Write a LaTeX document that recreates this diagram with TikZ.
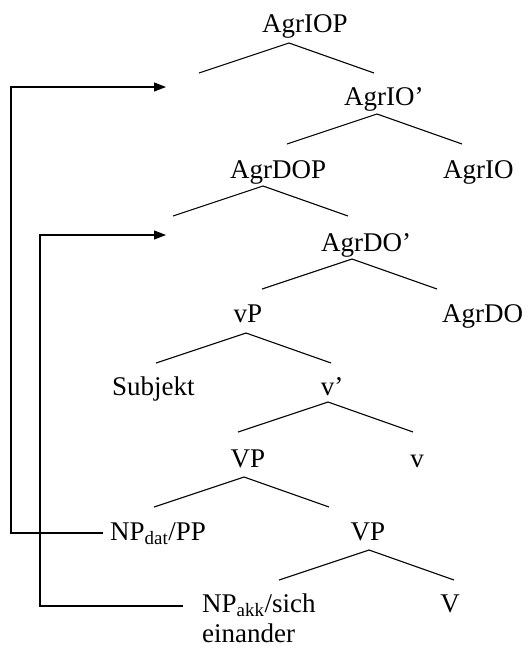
\documentclass[tikz,border=0pt]{standalone}
\usepackage{fontspec}
\setmainfont{Liberation Serif}
\usetikzlibrary{arrows.meta}

\begin{document}
\begin{tikzpicture}[x=1pt, y=-1pt]
	\tikzset{cat/.style={inner sep=0pt, anchor=base west, font=\fontsize{27}{32}\selectfont}}
	\tikzset{catc/.style={cat, anchor=base}}
	\tikzset{branch/.style={line width=1.1pt}}
	\tikzset{move/.style={line width=1.1pt, -{Triangle[length=12pt, width=9pt]}}}
		\useasboundingbox (0,0) rectangle (530,650);
		\foreach \name/\x/\y/\tag in {AgrIOP/262/33/AgrIOP, AgrIObar/344/106/AgrIO', AgrDOP/230/178/AgrDOP, AgrIO/443/178/AgrIO, AgrDObar/321/251/AgrDO', AgrDO/442/322/AgrDO, Subj/112/395/Subjekt, einander/202/642/einander}
		{\node[cat] (\name) at (\x,\y) {\tag};}
		\foreach \name/\x/\y/\tag in {vP/248/322/vP, vbar/332/395/v', VPa/248/467/VP, v/417/467/v, VPb/368/540/VP, V/450/612/V}
		{\node[catc] (\name) at (\x,\y) {\tag};}
		\node[cat] (NPdat) at (110,540) {NP\textsubscript{dat}/PP};
		\node[cat] (NPakk) at (202,612) {NP\textsubscript{akk}/sich};
		\foreach \name/\x/\y in {b1/289/43, b2/377/114, b3/263/186, b4/352/259, b5/246/333, b6/328/402, b7/244/477, b8/369/550}
		{\coordinate (\name) at (\x,\y);}
		\foreach \b in {b1, b2, b3, b4, b5, b6, b7, b8}
		{\draw[branch] (\b) ++(-90,30) -- (\b) -- ++(85,30);}
		% traces
		\coordinate (spec1) at (166,87);
		\coordinate (spec2) at (166,235);
		\draw[move] ([xshift=-7pt, yshift=7pt]NPdat.base west) -- ++(-92,0) |- (spec1);
		\draw[move] ([xshift=-19pt, yshift=6pt]NPakk.base west) -- ++(-143,0) |- (spec2);
	\end{tikzpicture}
\end{document}
